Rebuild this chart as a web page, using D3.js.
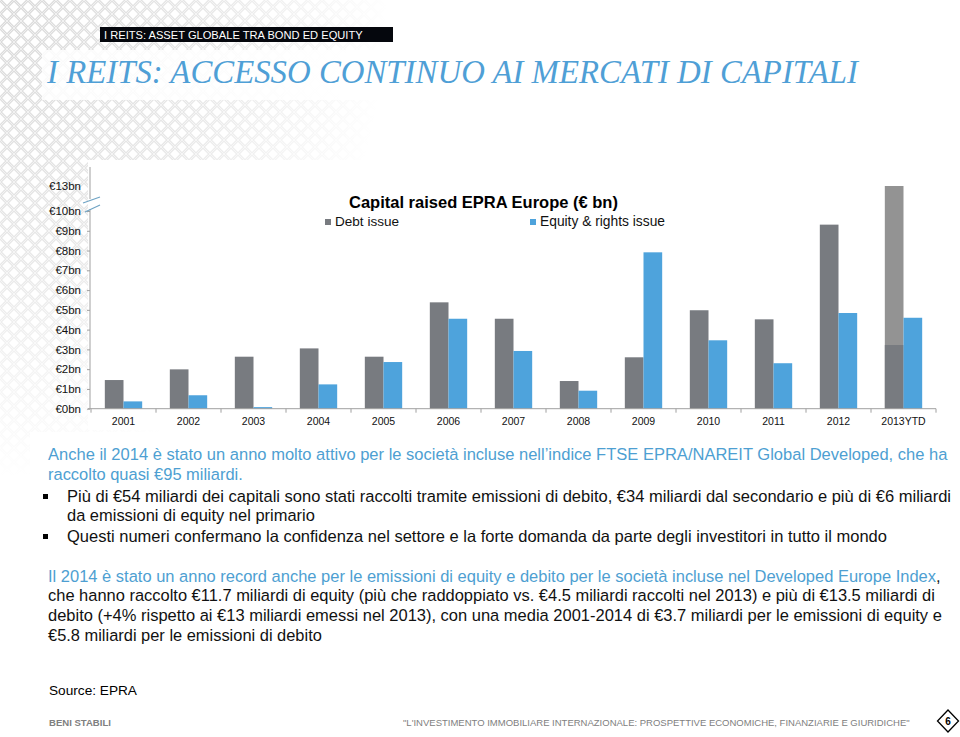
<!DOCTYPE html>
<html><head><meta charset="utf-8">
<script src="https://cdn.jsdelivr.net/npm/d3@7"></script>
<style>
html,body{margin:0;padding:0;background:#fff;}
svg{display:block;font-family:"Liberation Sans",Arial,sans-serif;}
</style></head>
<body>
<svg id="c" width="960" height="737"></svg>
<script>
// ---- data ----
const categories = ["2001","2002","2003","2004","2005","2006","2007","2008","2009","2010","2011","2012","2013YTD"];
const debtIssue   = [1.45,1.99,2.63,3.05,2.63,5.38,4.55,1.40,2.60,4.98,4.52,9.31,3.22];
const equityIssue = [0.37,0.68,0.08,1.23,2.36,4.55,2.92,0.91,7.91,3.46,2.30,4.84,4.60];
const debtFullYear = [0,0,0,0,0,0,0,0,0,0,0,0,13.0];
const yTicks = [0,1,2,3,4,5,6,7,8,9,10,13];
const seriesNames = ["Debt issue","Equity & rights issue"];

const svg = d3.select("#c");
const defs = svg.append("defs");

// background lattice pattern (top-left, fading)
const pat = defs.append("pattern").attr("id","lat").attr("width",14).attr("height",14)
  .attr("patternUnits","userSpaceOnUse");
pat.append("rect").attr("width",14).attr("height",14).attr("fill","#fff");
pat.append("path").attr("d","M0,0L14,14M14,0L0,14").attr("stroke","#d9d9d9").attr("stroke-width",3);
pat.append("path").attr("d","M0,0L14,14M14,0L0,14").attr("stroke","#efefef").attr("stroke-width",1);
const rg = defs.append("radialGradient").attr("id","fade").attr("cx",0).attr("cy",0).attr("r",0.75)
  .attr("gradientUnits","objectBoundingBox");
rg.append("stop").attr("offset","0%").attr("stop-color","#fff").attr("stop-opacity",1);
rg.append("stop").attr("offset","55%").attr("stop-color","#fff").attr("stop-opacity",0.6);
rg.append("stop").attr("offset","100%").attr("stop-color","#fff").attr("stop-opacity",0);
const mask = defs.append("mask").attr("id","m");
mask.append("rect").attr("x",0).attr("y",0).attr("width",520).attr("height",640).attr("fill","url(#fade)");
svg.append("rect").attr("x",0).attr("y",0).attr("width",520).attr("height",640)
  .attr("fill","url(#lat)").attr("mask","url(#m)");
// white area behind title and chart
svg.append("rect").attr("x",42).attr("y",50).attr("width",918).attr("height",50).attr("fill","#fff").attr("opacity",0.85);
svg.append("rect").attr("x",88).attr("y",160).attr("width",872).attr("height",270).attr("fill","#fff");
svg.append("rect").attr("x",30).attr("y",432).attr("width",930).attr("height",305).attr("fill","#fff");

function fit(sel, w){
  const n = sel.node();
  const fs = parseFloat(sel.attr("font-size"));
  const cw = n.getComputedTextLength();
  sel.attr("font-size", (fs*w/cw).toFixed(2));
  return sel;
}

// header
svg.append("rect").attr("x",100).attr("y",27).attr("width",293).attr("height",15).attr("fill","#05070d");
fit(svg.append("text").attr("x",104).attr("y",39).attr("font-size",11).attr("fill","#fff")
  .text("I REITS: ASSET GLOBALE TRA BOND ED EQUITY"), 259);

// title
fit(svg.append("text").attr("x",47).attr("y",83).attr("font-size",30)
  .attr("font-family","'Liberation Serif',serif").attr("font-style","italic").attr("fill","#4f9fd6")
  .text("I REITS: ACCESSO CONTINUO AI MERCATI DI CAPITALI"), 811);

// ---- chart ----
const x = d3.scaleBand().domain(categories).range([91,936]).padding(0);
const xs = d3.scaleBand().domain(["debt","equity"]).range([0,x.bandwidth()]).paddingInner(0).paddingOuter(0.74);
const y = d3.scaleLinear().domain([0,10,13]).range([408.7,211,186]);

const cDebt = "#787b80", cEq = "#4ea3dc", cLight = "#939393";

const g = svg.append("g");
// debt full year (lighter, upper part)
g.selectAll(".df").data(categories.map((c,i)=>({c,v:debtFullYear[i]})).filter(d=>d.v>0))
  .join("rect").attr("x",d=>x(d.c)+xs("debt")).attr("width",xs.bandwidth())
  .attr("y",d=>y(d.v)).attr("height",d=>y(0)-y(d.v)).attr("fill",cLight);
g.selectAll(".db").data(categories.map((c,i)=>({c,v:debtIssue[i]})))
  .join("rect").attr("x",d=>x(d.c)+xs("debt")).attr("width",xs.bandwidth())
  .attr("y",d=>y(d.v)).attr("height",d=>y(0)-y(d.v)).attr("fill",cDebt);
g.selectAll(".eq").data(categories.map((c,i)=>({c,v:equityIssue[i]})))
  .join("rect").attr("x",d=>x(d.c)+xs("equity")).attr("width",xs.bandwidth())
  .attr("y",d=>y(d.v)).attr("height",d=>y(0)-y(d.v)).attr("fill",cEq);

// x axis
const xAxis = svg.append("g").attr("transform",`translate(0,${y(0)})`)
  .call(d3.axisBottom(x).tickSize(0).tickPadding(9));
xAxis.select(".domain").attr("stroke","#a0a0a0").attr("d","M88,0H936");
xAxis.selectAll("text").attr("font-size",10.5).attr("fill","#111").attr("font-family","'Liberation Sans',Arial,sans-serif");
// category boundary ticks
svg.append("g").selectAll("line").data(categories.concat(["end"]))
  .join("line").attr("x1",(d,i)=>x.range()[0]+i*x.step()).attr("x2",(d,i)=>x.range()[0]+i*x.step())
  .attr("y1",y(0)).attr("y2",y(0)+4).attr("stroke","#a0a0a0");

// y axis with break
const yAxis = svg.append("g").attr("transform","translate(90,0)")
  .call(d3.axisLeft(y).tickValues(yTicks).tickFormat(d=>"€"+d+"bn").tickSize(3).tickPadding(6));
yAxis.select(".domain").remove();
yAxis.selectAll("line").attr("stroke","#a0a0a0");
yAxis.selectAll(".tick").filter(d=>d===13).select("line").remove();
yAxis.selectAll("text").attr("font-size",11.5).attr("fill","#111").attr("font-family","'Liberation Sans',Arial,sans-serif");
svg.append("line").attr("x1",90).attr("x2",90).attr("y1",y(0)).attr("y2",209).attr("stroke","#a0a0a0");
svg.append("line").attr("x1",90).attr("x2",90).attr("y1",199).attr("y2",167).attr("stroke","#a0a0a0");
svg.append("line").attr("x1",83).attr("y1",203).attr("x2",100).attr("y2",197).attr("stroke","#6fa3c4").attr("stroke-width",1.2);
svg.append("line").attr("x1",85).attr("y1",212).attr("x2",100).attr("y2",205).attr("stroke","#6fa3c4").attr("stroke-width",1.2);

// chart title & legend
fit(svg.append("text").attr("x",349).attr("y",208).attr("font-size",16).attr("font-weight","bold").attr("fill","#000")
  .text("Capital raised EPRA Europe (€ bn)"), 269);
const legX = [325,530], legC = [cDebt, cEq], legW=[64,125];
seriesNames.forEach((s,i)=>{
  svg.append("rect").attr("x",legX[i]).attr("y",219).attr("width",6).attr("height",6).attr("fill",legC[i]);
  fit(svg.append("text").attr("x",legX[i]+10).attr("y",226).attr("font-size",13).attr("fill","#111").text(s), legW[i]);
});

// ---- body text ----
const blue = "#4e9fd2", black = "#111";
function line(xp, yp, txt, col, w){
  const t = svg.append("text").attr("x",xp).attr("y",yp).attr("font-size",15).attr("fill",col).text(txt);
  if (w) fit(t,w);
  return t;
}
line(48,460,"Anche il 2014 è stato un anno molto attivo per le società incluse nell’indice FTSE EPRA/NAREIT Global Developed, che ha",blue,900);
line(48,480,"raccolto quasi €95 miliardi.",blue,195);
svg.append("rect").attr("x",43).attr("y",494).attr("width",5).attr("height",5).attr("fill","#000");
line(67,502,"Più di €54 miliardi dei capitali sono stati raccolti tramite emissioni di debito, €34 miliardi dal secondario e più di €6 miliardi",black,885);
line(67,521,"da emissioni di equity nel primario",black,248);
svg.append("rect").attr("x",43).attr("y",534).attr("width",5).attr("height",5).attr("fill","#000");
line(67,542,"Questi numeri confermano la confidenza nel settore e la forte domanda da parte degli investitori in tutto il mondo",black,820);
const p2 = svg.append("text").attr("x",48).attr("y",582).attr("font-size",15);
p2.append("tspan").attr("fill",blue).text("Il 2014 è stato un anno record anche per le emissioni di equity e debito per le società incluse nel Developed Europe Index");
p2.append("tspan").attr("fill",black).text(",");
fit(p2, 893);
line(48,601,"che hanno raccolto €11.7 miliardi di equity (più che raddoppiato vs. €4.5 miliardi raccolti nel 2013) e più di €13.5 miliardi di",black,888);
line(48,621,"debito (+4% rispetto ai €13 miliardi emessi nel 2013), con una media 2001-2014 di €3.7 miliardi per le emissioni di equity e",black,894);
line(48,641,"€5.8 miliardi per le emissioni di debito",black,274);

// source & footer
fit(svg.append("text").attr("x",49).attr("y",695).attr("font-size",13).attr("fill","#000").text("Source: EPRA"),88);
fit(svg.append("text").attr("x",49).attr("y",726).attr("font-size",10).attr("font-weight","bold").attr("fill","#808080").text("BENI STABILI"),62);
fit(svg.append("text").attr("x",403).attr("y",726).attr("font-size",10).attr("fill","#808080")
  .text("\"L'INVESTIMENTO IMMOBILIARE INTERNAZIONALE: PROSPETTIVE ECONOMICHE, FINANZIARIE E GIURIDICHE\""),507);
svg.append("path").attr("d","M948,710L958.5,721L948,732L937.5,721Z").attr("fill","#fff").attr("stroke","#000").attr("stroke-width",1.3);
svg.append("text").attr("x",948).attr("y",725).attr("text-anchor","middle").attr("font-size",10).attr("font-weight","bold").attr("fill","#000").text("6");
</script>
</body></html>
